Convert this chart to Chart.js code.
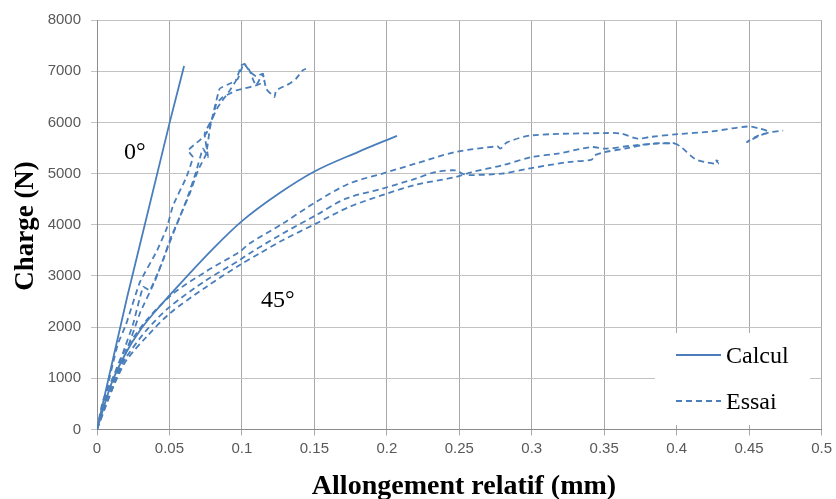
<!DOCTYPE html>
<html>
<head>
<meta charset="utf-8">
<script src="https://cdn.jsdelivr.net/npm/chart.js@4/dist/chart.umd.min.js"></script>
<style>
  html, body { margin: 0; padding: 0; background: #fff; }
  #wrap { width: 836px; height: 499px; position: relative; }
</style>
</head>
<body>
<div id="wrap"><canvas id="myChart" width="836" height="499"></canvas></div>
<script>
// Axis ticks
const xTicks = [0, 0.05, 0.1, 0.15, 0.2, 0.25, 0.3, 0.35, 0.4, 0.45, 0.5];
const yTicks = [0, 1000, 2000, 3000, 4000, 5000, 6000, 7000, 8000];

// Calcul (model) curves, [allongement, charge]
const calcul0 = [[0, 0], [0.0207, 2575], [0.0503, 6015], [0.0601, 7100]];
const calcul45 = [[0, 0], [0.01, 900], [0.02, 1500], [0.03, 1950], [0.04, 2300], [0.05, 2620],
    [0.06, 2930], [0.08, 3530], [0.1, 4070], [0.125, 4600], [0.15, 5040], [0.18, 5420], [0.207, 5737]];

// Essai (test) curves at 0 degrees
const essai0a = [[0, 0], [0.004, 450], [0.011, 1290], [0.0145, 1680], [0.02, 2050], [0.0296, 2880],
    [0.041, 3470], [0.048, 3920], [0.0525, 4380], [0.0617, 4930], [0.0662, 5320], [0.0628, 5450],
    [0.0708, 5650], [0.0754, 5780], [0.08, 6100], [0.0834, 6300], [0.0915, 6620], [0.096, 6820],
    [0.0995, 7110], [0.1018, 7145], [0.1052, 7015], [0.1075, 6850], [0.1098, 6720], [0.1144, 6950], [0.1155, 6790]];
const essai0b = [[0, 0], [0.005, 500], [0.011, 900], [0.018, 1500], [0.025, 2070], [0.0318, 2786],
    [0.0365, 2720], [0.0456, 3307], [0.0502, 3697], [0.0571, 4152], [0.064, 4608], [0.0697, 5063],
    [0.0754, 5389], [0.078, 5900], [0.0846, 6657], [0.0915, 6754], [0.0972, 6852], [0.1006, 7112],
    [0.1018, 7140], [0.1052, 7000], [0.1098, 6900], [0.1144, 6950], [0.1167, 6657], [0.1224, 6494],
    [0.1236, 6624], [0.1327, 6754], [0.1373, 6852], [0.1419, 7015], [0.1442, 7047]];
const essai0c = [[0, 0], [0.006, 450], [0.012, 900], [0.02, 1500], [0.03, 2300], [0.04, 2900],
    [0.048, 3500], [0.055, 4000], [0.062, 4500], [0.068, 5000], [0.0731, 5487], [0.0766, 5323],
    [0.0743, 5780], [0.08, 6103], [0.0823, 6364], [0.0869, 6494], [0.0915, 6560], [0.096, 6624],
    [0.1, 6650], [0.1098, 6722], [0.1155, 6790]];

// Essai (test) curves at 45 degrees
const essai45a = [[0, 0], [0.0043, 575], [0.0112, 1030], [0.0181, 1487], [0.0342, 2137], [0.0525, 2654],
    [0.0754, 3090], [0.0983, 3469], [0.1052, 3633], [0.1281, 4023], [0.1511, 4445], [0.174, 4804],
    [0.197, 5000], [0.2199, 5195], [0.2474, 5420], [0.2762, 5530], [0.2785, 5490], [0.283, 5610],
    [0.3, 5746], [0.3505, 5791], [0.3613, 5783], [0.3729, 5684], [0.3822, 5717], [0.4008, 5770],
    [0.424, 5823], [0.449, 5920], [0.457, 5880], [0.4635, 5810], [0.457, 5740], [0.4485, 5615],
    [0.4545, 5720], [0.4635, 5800], [0.4735, 5840]];
const essai45b = [[0, 0], [0.006, 600], [0.012, 1000], [0.0204, 1420], [0.0342, 1941], [0.0502, 2396],
    [0.0754, 2917], [0.0983, 3307], [0.1052, 3440], [0.1281, 3828], [0.1511, 4185], [0.1717, 4511],
    [0.197, 4706], [0.2199, 4901], [0.2336, 5030], [0.2474, 5063], [0.252, 5000], [0.2565, 4970],
    [0.2795, 5000], [0.2978, 5096], [0.3253, 5225], [0.3414, 5272], [0.343, 5350], [0.3505, 5420],
    [0.3643, 5487], [0.3826, 5584], [0.3987, 5584], [0.403, 5518], [0.4124, 5291], [0.4193, 5225],
    [0.4285, 5193], [0.4273, 5258], [0.43, 5230]];
const essai45c = [[0, 0], [0.007, 550], [0.013, 950], [0.0204, 1356], [0.0342, 1811], [0.0502, 2267],
    [0.0754, 2786], [0.0983, 3210], [0.1121, 3438], [0.1281, 3697], [0.1511, 4023], [0.174, 4347],
    [0.1992, 4600], [0.2199, 4780], [0.2474, 4933], [0.2588, 5030], [0.2795, 5160], [0.3, 5323],
    [0.318, 5389], [0.3414, 5518], [0.3505, 5487], [0.371, 5551], [0.387, 5584], [0.3987, 5596]];

const blue = '#4a7ebb';

function solid(data) {
    return { data: data.map(p => ({ x: p[0], y: p[1] })), borderColor: blue, borderWidth: 1.8,
        showLine: true, pointRadius: 0, fill: false, cubicInterpolationMode: 'monotone' };
}
function dashed(data, smooth) {
    return { data: data.map(p => ({ x: p[0], y: p[1] })), borderColor: blue, borderWidth: 1.8,
        borderDash: [6, 4], showLine: true, pointRadius: 0, fill: false, tension: smooth };
}

// Texts, legend and axis titles drawn on the canvas
const extras = {
    id: 'extras',
    afterDraw(chart) {
        const c = chart.ctx;
        c.save();
        // legend box
        c.fillStyle = '#fff';
        c.fillRect(655, 333, 155, 92);
        c.strokeStyle = blue;
        c.lineWidth = 1.8;
        c.beginPath(); c.moveTo(676, 355); c.lineTo(721, 355); c.stroke();
        c.setLineDash([6, 4]);
        c.beginPath(); c.moveTo(676, 401); c.lineTo(721, 401); c.stroke();
        c.setLineDash([]);
        c.fillStyle = '#000';
        c.font = '24px "Liberation Serif"';
        c.textBaseline = 'alphabetic';
        c.textAlign = 'left';
        c.fillText('Calcul', 726, 363);
        c.fillText('Essai', 726, 409);
        // angle labels
        c.fillText('0°', 124, 159);
        c.fillText('45°', 261, 307);
        // axis titles
        c.font = 'bold 28px "Liberation Serif"';
        c.textAlign = 'center';
        c.fillText('Allongement relatif (mm)', 464, 494);
        c.translate(33, 226);
        c.rotate(-Math.PI / 2);
        c.font = 'bold 27px "Liberation Serif"';
        c.fillText('Charge (N)', 0, 0);
        c.restore();
    }
};

var ctx = document.getElementById('myChart').getContext('2d');
var myChart = new Chart(ctx, {
    type: 'scatter',
    data: {
        datasets: [
            solid(calcul0), solid(calcul45),
            dashed(essai0a, 0.1), dashed(essai0b, 0.1), dashed(essai0c, 0.1),
            dashed(essai45a, 0.3), dashed(essai45b, 0.3), dashed(essai45c, 0.3)
        ]
    },
    options: {
        responsive: false,
        animation: false,
        layout: { padding: { top: 20, right: 12, left: 0, bottom: 0 } },
        plugins: { legend: { display: false }, tooltip: { enabled: false } },
        scales: {
            x: {
                type: 'linear',
                min: xTicks[0],
                max: xTicks[xTicks.length - 1],
                afterBuildTicks: s => { s.ticks = xTicks.map(v => ({ value: v })); },
                afterFit: s => { s.height = 69.5; },
                grid: { color: '#a8a8a8', lineWidth: 1, tickLength: 6 },
                border: { color: '#8c8c8c', width: 1 },
                ticks: {
                    color: '#595959', font: { family: 'Liberation Sans', size: 15 }, padding: 4,
                    maxRotation: 0, autoSkip: false,
                    callback: v => String(+v.toFixed(2))
                }
            },
            y: {
                min: yTicks[0],
                max: yTicks[yTicks.length - 1],
                afterBuildTicks: s => { s.ticks = yTicks.map(v => ({ value: v })); },
                afterFit: s => { s.width = 97; },
                grid: { color: '#c2c2c2', lineWidth: 1, tickLength: 6 },
                border: { color: '#8c8c8c', width: 1 },
                ticks: {
                    color: '#595959', font: { family: 'Liberation Sans', size: 15 }, padding: 10,
                    callback: v => String(v)
                }
            }
        }
    },
    plugins: [extras]
});
</script>
</body>
</html>
